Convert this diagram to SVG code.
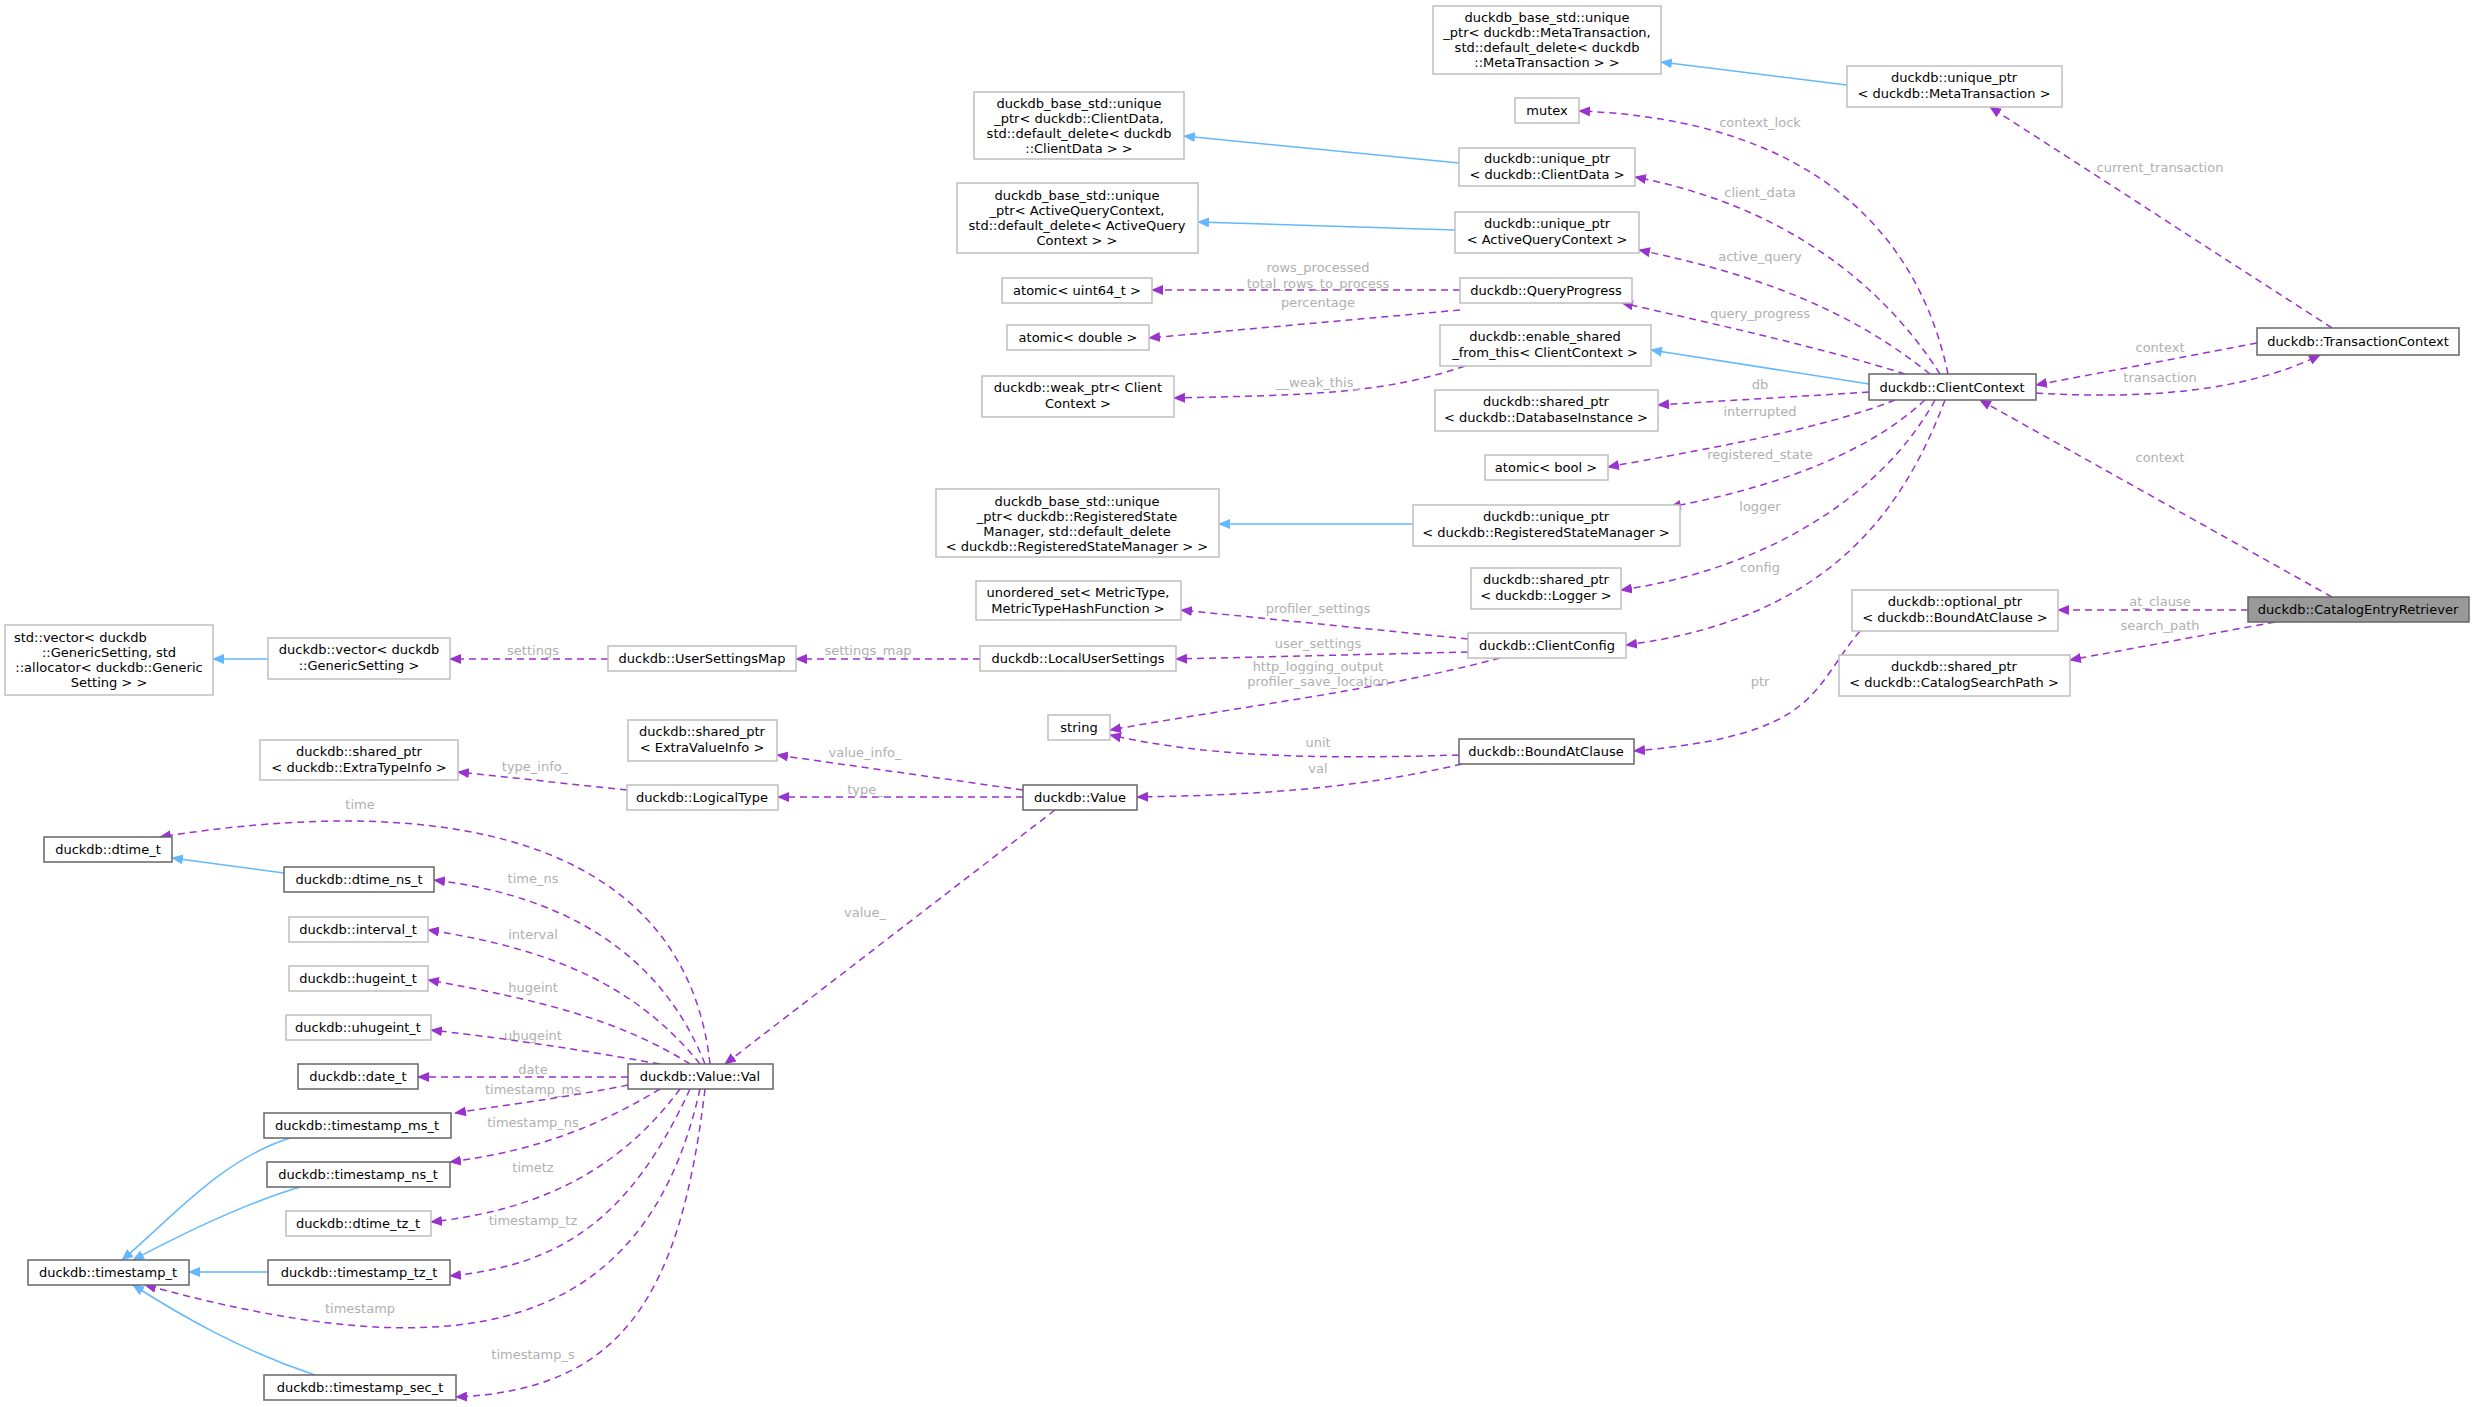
<svg xmlns="http://www.w3.org/2000/svg" width="2475" height="1407" viewBox="0 0 2475 1407">
<style>
text{font-family:"DejaVu Sans",sans-serif;font-size:13px;fill:#000;text-anchor:middle}
.n rect{fill:#fff;stroke:#bfbfbf;stroke-width:1.5}
.d rect{stroke:#666}
.l{fill:#b0b0b0;font-size:13px}
.p{fill:none;stroke:#9a32cd;stroke-width:1.5;stroke-dasharray:7,5;marker-end:url(#mp)}
.b{fill:none;stroke:#63b8ff;stroke-width:1.5;marker-end:url(#mb)}
</style>
<defs>
<marker id="mp" markerWidth="12" markerHeight="10" refX="11" refY="5" orient="auto" markerUnits="userSpaceOnUse"><path d="M0,0L12,5L0,10z" fill="#9a32cd"/></marker>
<marker id="mb" markerWidth="12" markerHeight="10" refX="11" refY="5" orient="auto" markerUnits="userSpaceOnUse"><path d="M0,0L12,5L0,10z" fill="#63b8ff"/></marker>
</defs>
<rect width="2475" height="1407" fill="#fff"/>
<g id="edges">
<path class="b" d="M1847,85L1661,62"/>
<path class="b" d="M1459,163L1184,136"/>
<path class="b" d="M1455,230L1198,222"/>
<path class="b" d="M1413,524L1219,524"/>
<path class="b" d="M1869,384L1651,350"/>
<path class="b" d="M268,659L213,659"/>
<path class="b" d="M284,873L172,858"/>
<path class="b" d="M290,1138C220,1160 170,1220 122,1260"/>
<path class="b" d="M300,1187C240,1205 180,1235 133,1260"/>
<path class="b" d="M268,1272L189,1272"/>
<path class="b" d="M315,1375C240,1350 180,1315 133,1285"/>
<path class="p" d="M1948,374C1920,240 1820,120 1579,111"/>
<path class="p" d="M1940,374C1880,280 1780,205 1635,177"/>
<path class="p" d="M1930,374C1850,310 1760,275 1639,250"/>
<path class="p" d="M1905,374C1830,350 1720,325 1622,303"/>
<path class="p" d="M1869,392L1658,405"/>
<path class="p" d="M1895,400C1820,430 1700,450 1608,467"/>
<path class="p" d="M1925,400C1860,460 1760,490 1670,507"/>
<path class="p" d="M1935,400C1880,500 1760,570 1621,590"/>
<path class="p" d="M1945,400C1900,520 1820,620 1626,645"/>
<path class="p" d="M2257,343L2036,385"/>
<path class="p" d="M2036,393C2150,400 2250,390 2320,355"/>
<path class="p" d="M2332,328L1990,107"/>
<path class="p" d="M2332,597L1980,400"/>
<path class="p" d="M2248,610L2058,610"/>
<path class="p" d="M2275,622L2070,660"/>
<path class="p" d="M1860,631C1810,690 1820,735 1634,751"/>
<path class="p" d="M1460,290L1152,290"/>
<path class="p" d="M1460,310L1149,338"/>
<path class="p" d="M1465,366C1380,395 1300,395 1174,398"/>
<path class="p" d="M1468,639L1181,610"/>
<path class="p" d="M1468,652L1176,659"/>
<path class="p" d="M1500,658C1380,690 1250,705 1110,730"/>
<path class="p" d="M1459,755C1300,760 1200,755 1110,735"/>
<path class="p" d="M1462,764C1350,790 1250,795 1137,797"/>
<path class="p" d="M980,659L796,659"/>
<path class="p" d="M608,659L450,659"/>
<path class="p" d="M1023,790L777,755"/>
<path class="p" d="M1023,797L778,797"/>
<path class="p" d="M627,790L458,772"/>
<path class="p" d="M1055,810L725,1064"/>
<path class="p" d="M710,1064C690,880 520,780 160,837"/>
<path class="p" d="M705,1064C660,950 560,895 434,880"/>
<path class="p" d="M700,1064C640,990 560,950 428,930"/>
<path class="p" d="M690,1064C620,1020 540,1000 428,980"/>
<path class="p" d="M660,1064C580,1050 520,1040 431,1030"/>
<path class="p" d="M628,1077L418,1077"/>
<path class="p" d="M628,1085C580,1095 520,1103 455,1113"/>
<path class="p" d="M660,1089C600,1125 540,1150 450,1162"/>
<path class="p" d="M680,1089C620,1170 540,1210 431,1222"/>
<path class="p" d="M690,1089C630,1220 560,1265 450,1276"/>
<path class="p" d="M700,1089C640,1360 420,1360 145,1285"/>
<path class="p" d="M705,1089C680,1300 620,1390 456,1397"/>
</g>
<g id="labels">
<text class="l" x="1760" y="127">context_lock</text>
<text class="l" x="1760" y="197">client_data</text>
<text class="l" x="1760" y="261">active_query</text>
<text class="l" x="1760" y="318">query_progress</text>
<text class="l" x="1760" y="389">db</text>
<text class="l" x="1760" y="416">interrupted</text>
<text class="l" x="1760" y="459">registered_state</text>
<text class="l" x="1760" y="511">logger</text>
<text class="l" x="1760" y="572">config</text>
<text class="l" x="2160" y="352">context</text>
<text class="l" x="2160" y="382">transaction</text>
<text class="l" x="2160" y="172">current_transaction</text>
<text class="l" x="2160" y="462">context</text>
<text class="l" x="2160" y="606">at_clause</text>
<text class="l" x="2160" y="630">search_path</text>
<text class="l" x="1760" y="686">ptr</text>
<text class="l" x="1318" y="272">rows_processed</text>
<text class="l" x="1318" y="288">total_rows_to_process</text>
<text class="l" x="1318" y="307">percentage</text>
<text class="l" x="1318" y="387">__weak_this_</text>
<text class="l" x="1318" y="613">profiler_settings</text>
<text class="l" x="1318" y="648">user_settings</text>
<text class="l" x="1318" y="671">http_logging_output</text>
<text class="l" x="1318" y="686">profiler_save_location</text>
<text class="l" x="1318" y="747">unit</text>
<text class="l" x="1318" y="773">val</text>
<text class="l" x="868" y="655">settings_map</text>
<text class="l" x="533" y="655">settings</text>
<text class="l" x="865" y="757">value_info_</text>
<text class="l" x="865" y="794">type_</text>
<text class="l" x="535" y="771">type_info_</text>
<text class="l" x="865" y="917">value_</text>
<text class="l" x="360" y="809">time</text>
<text class="l" x="533" y="883">time_ns</text>
<text class="l" x="533" y="939">interval</text>
<text class="l" x="533" y="992">hugeint</text>
<text class="l" x="533" y="1040">uhugeint</text>
<text class="l" x="533" y="1074">date</text>
<text class="l" x="533" y="1094">timestamp_ms</text>
<text class="l" x="533" y="1127">timestamp_ns</text>
<text class="l" x="533" y="1172">timetz</text>
<text class="l" x="533" y="1225">timestamp_tz</text>
<text class="l" x="360" y="1313">timestamp</text>
<text class="l" x="533" y="1359">timestamp_s</text>
</g>
<g id="n1" class="n"><rect x="1433" y="6" width="228" height="68"/><text x="1547" y="22">duckdb_base_std::unique</text><text x="1547" y="37">_ptr&lt; duckdb::MetaTransaction,</text><text x="1547" y="52">std::default_delete&lt; duckdb</text><text x="1547" y="67">::MetaTransaction &gt; &gt;</text></g>
<g id="n2" class="n"><rect x="1847" y="66" width="215" height="41"/><text x="1954" y="82">duckdb::unique_ptr</text><text x="1954" y="98">&lt; duckdb::MetaTransaction &gt;</text></g>
<g id="n3" class="n"><rect x="1515" y="98" width="64" height="25"/><text x="1547" y="115">mutex</text></g>
<g id="n4" class="n"><rect x="974" y="92" width="210" height="67"/><text x="1079" y="108">duckdb_base_std::unique</text><text x="1079" y="123">_ptr&lt; duckdb::ClientData,</text><text x="1079" y="138">std::default_delete&lt; duckdb</text><text x="1079" y="153">::ClientData &gt; &gt;</text></g>
<g id="n5" class="n"><rect x="1459" y="148" width="176" height="38"/><text x="1547" y="163">duckdb::unique_ptr</text><text x="1547" y="179">&lt; duckdb::ClientData &gt;</text></g>
<g id="n6" class="n"><rect x="957" y="183" width="241" height="70"/><text x="1077" y="200">duckdb_base_std::unique</text><text x="1077" y="215">_ptr&lt; ActiveQueryContext,</text><text x="1077" y="230">std::default_delete&lt; ActiveQuery</text><text x="1077" y="245">Context &gt; &gt;</text></g>
<g id="n7" class="n"><rect x="1455" y="212" width="184" height="41"/><text x="1547" y="228">duckdb::unique_ptr</text><text x="1547" y="244">&lt; ActiveQueryContext &gt;</text></g>
<g id="n8" class="n"><rect x="1002" y="278" width="150" height="25"/><text x="1077" y="295">atomic&lt; uint64_t &gt;</text></g>
<g id="n9" class="n"><rect x="1460" y="278" width="172" height="25"/><text x="1546" y="295">duckdb::QueryProgress</text></g>
<g id="n10" class="n"><rect x="1007" y="325" width="142" height="25"/><text x="1078" y="342">atomic&lt; double &gt;</text></g>
<g id="n11" class="n"><rect x="1440" y="325" width="211" height="41"/><text x="1545" y="341">duckdb::enable_shared</text><text x="1545" y="357">_from_this&lt; ClientContext &gt;</text></g>
<g id="n12" class="n"><rect x="982" y="376" width="192" height="41"/><text x="1078" y="392">duckdb::weak_ptr&lt; Client</text><text x="1078" y="408">Context &gt;</text></g>
<g id="n13" class="n"><rect x="1435" y="390" width="223" height="41"/><text x="1546" y="406">duckdb::shared_ptr</text><text x="1546" y="422">&lt; duckdb::DatabaseInstance &gt;</text></g>
<g id="n14" class="n d"><rect x="1869" y="374" width="167" height="26"/><text x="1952" y="392">duckdb::ClientContext</text></g>
<g id="n15" class="n d"><rect x="2257" y="328" width="202" height="27"/><text x="2358" y="346">duckdb::TransactionContext</text></g>
<g id="n16" class="n"><rect x="1485" y="455" width="123" height="25"/><text x="1546" y="472">atomic&lt; bool &gt;</text></g>
<g id="n17" class="n"><rect x="936" y="489" width="283" height="68"/><text x="1077" y="506">duckdb_base_std::unique</text><text x="1077" y="521">_ptr&lt; duckdb::RegisteredState</text><text x="1077" y="536">Manager, std::default_delete</text><text x="1077" y="551">&lt; duckdb::RegisteredStateManager &gt; &gt;</text></g>
<g id="n18" class="n"><rect x="1413" y="505" width="267" height="41"/><text x="1546" y="521">duckdb::unique_ptr</text><text x="1546" y="537">&lt; duckdb::RegisteredStateManager &gt;</text></g>
<g id="n19" class="n"><rect x="1471" y="568" width="150" height="41"/><text x="1546" y="584">duckdb::shared_ptr</text><text x="1546" y="600">&lt; duckdb::Logger &gt;</text></g>
<g id="n20" class="n"><rect x="976" y="581" width="205" height="39"/><text x="1078" y="597">unordered_set&lt; MetricType,</text><text x="1078" y="613">MetricTypeHashFunction &gt;</text></g>
<g id="n21" class="n"><rect x="1468" y="633" width="158" height="25"/><text x="1547" y="650">duckdb::ClientConfig</text></g>
<g id="n22" class="n"><rect x="1852" y="590" width="206" height="41"/><text x="1955" y="606">duckdb::optional_ptr</text><text x="1955" y="622">&lt; duckdb::BoundAtClause &gt;</text></g>
<g id="n23" class="n"><rect x="2248" y="597" width="221" height="25" style="fill:#999;stroke:#666"/><text x="2358" y="614">duckdb::CatalogEntryRetriever</text></g>
<g id="n24" class="n"><rect x="1839" y="655" width="231" height="41"/><text x="1954" y="671">duckdb::shared_ptr</text><text x="1954" y="687">&lt; duckdb::CatalogSearchPath &gt;</text></g>
<g id="n25" class="n"><rect x="980" y="646" width="196" height="25"/><text x="1078" y="663">duckdb::LocalUserSettings</text></g>
<g id="n26" class="n"><rect x="608" y="646" width="188" height="25"/><text x="702" y="663">duckdb::UserSettingsMap</text></g>
<g id="n27" class="n"><rect x="268" y="638" width="182" height="41"/><text x="359" y="654">duckdb::vector&lt; duckdb</text><text x="359" y="670">::GenericSetting &gt;</text></g>
<g id="n28" class="n"><rect x="5" y="625" width="208" height="70"/><text x="14" y="642" style="text-anchor:start">std::vector&lt; duckdb</text><text x="109" y="657">::GenericSetting, std</text><text x="109" y="672">::allocator&lt; duckdb::Generic</text><text x="109" y="687">Setting &gt; &gt;</text></g>
<g id="n29" class="n"><rect x="1048" y="715" width="62" height="25"/><text x="1079" y="732">string</text></g>
<g id="n30" class="n d"><rect x="1459" y="739" width="175" height="25"/><text x="1546" y="756">duckdb::BoundAtClause</text></g>
<g id="n31" class="n"><rect x="628" y="720" width="149" height="41"/><text x="702" y="736">duckdb::shared_ptr</text><text x="702" y="752">&lt; ExtraValueInfo &gt;</text></g>
<g id="n32" class="n"><rect x="260" y="740" width="198" height="40"/><text x="359" y="756">duckdb::shared_ptr</text><text x="359" y="772">&lt; duckdb::ExtraTypeInfo &gt;</text></g>
<g id="n33" class="n"><rect x="627" y="785" width="151" height="25"/><text x="702" y="802">duckdb::LogicalType</text></g>
<g id="n34" class="n d"><rect x="1023" y="785" width="114" height="25"/><text x="1080" y="802">duckdb::Value</text></g>
<g id="n35" class="n d"><rect x="44" y="837" width="128" height="25"/><text x="108" y="854">duckdb::dtime_t</text></g>
<g id="n36" class="n d"><rect x="284" y="867" width="150" height="25"/><text x="359" y="884">duckdb::dtime_ns_t</text></g>
<g id="n37" class="n"><rect x="289" y="917" width="139" height="25"/><text x="358" y="934">duckdb::interval_t</text></g>
<g id="n38" class="n"><rect x="289" y="966" width="139" height="25"/><text x="358" y="983">duckdb::hugeint_t</text></g>
<g id="n39" class="n"><rect x="286" y="1015" width="145" height="25"/><text x="358" y="1032">duckdb::uhugeint_t</text></g>
<g id="n40" class="n d"><rect x="298" y="1064" width="120" height="25"/><text x="358" y="1081">duckdb::date_t</text></g>
<g id="n41" class="n d"><rect x="628" y="1064" width="145" height="25"/><text x="700" y="1081">duckdb::Value::Val</text></g>
<g id="n42" class="n d"><rect x="264" y="1113" width="187" height="25"/><text x="357" y="1130">duckdb::timestamp_ms_t</text></g>
<g id="n43" class="n d"><rect x="267" y="1162" width="183" height="25"/><text x="358" y="1179">duckdb::timestamp_ns_t</text></g>
<g id="n44" class="n"><rect x="286" y="1211" width="145" height="25"/><text x="358" y="1228">duckdb::dtime_tz_t</text></g>
<g id="n45" class="n d"><rect x="28" y="1260" width="161" height="25"/><text x="108" y="1277">duckdb::timestamp_t</text></g>
<g id="n46" class="n d"><rect x="268" y="1260" width="182" height="25"/><text x="359" y="1277">duckdb::timestamp_tz_t</text></g>
<g id="n47" class="n d"><rect x="264" y="1375" width="192" height="25"/><text x="360" y="1392">duckdb::timestamp_sec_t</text></g>
</svg>
